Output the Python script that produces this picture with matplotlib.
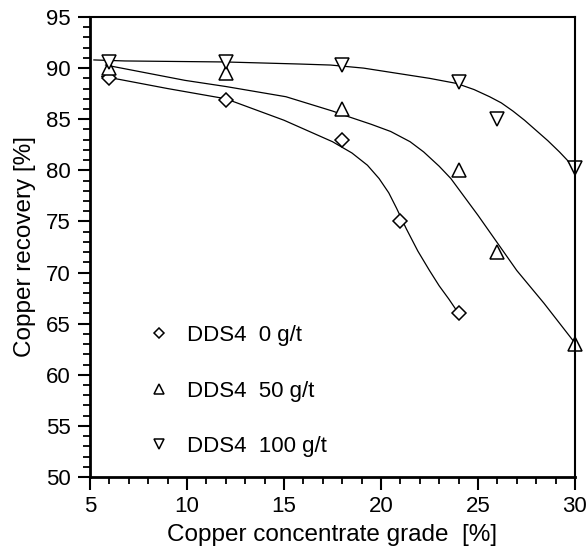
import matplotlib
matplotlib.use("Agg")
import matplotlib.pyplot as plt
from matplotlib.lines import Line2D
from matplotlib.ticker import MultipleLocator

plt.rcParams['font.family'] = ['Liberation Sans', 'DejaVu Sans']

# measured points
grade_0 = [6, 12, 18, 21, 24]
rec_0 = [89.0, 86.9, 83.0, 75.0, 66.0]
grade_50 = [6, 12, 18, 24, 26, 30]
rec_50 = [90.0, 89.5, 86.0, 80.0, 72.0, 63.0]
grade_100 = [6, 12, 18, 24, 26, 30]
rec_100 = [90.6, 90.6, 90.3, 88.6, 85.0, 80.2]

# fitted curves
fit_x_0 = [5.6, 6.5, 9.0, 12.0, 15.0, 17.5, 18.5, 19.3, 19.9, 20.4, 20.8, 21.3, 21.9, 22.5, 23.0, 23.5, 24.0]
fit_y_0 = [89.2, 88.9, 88.0, 87.0, 84.9, 82.8, 81.7, 80.5, 79.2, 77.8, 76.3, 74.3, 72.1, 70.2, 68.7, 67.4, 66.0]
fit_x_50 = [5.8, 9.9, 12.0, 15.1, 17.5, 18.4, 19.5, 20.5, 21.5, 22.2, 23.0, 23.6, 24.3, 25.0, 26.0, 27.0, 28.4, 30.0]
fit_y_50 = [90.3, 88.8, 88.2, 87.2, 85.8, 85.2, 84.5, 83.8, 82.8, 81.8, 80.4, 79.2, 77.4, 75.6, 72.9, 70.2, 67.0, 63.1]
fit_x_100 = [5.2, 6.8, 12.0, 15.8, 17.4, 19.1, 20.8, 22.5, 23.9, 24.8, 25.6, 26.2, 26.8, 27.4, 28.0, 28.6, 29.2, 29.6, 30.0]
fit_y_100 = [90.8, 90.7, 90.6, 90.4, 90.3, 90.0, 89.5, 89.0, 88.5, 87.9, 87.2, 86.6, 85.8, 84.9, 83.9, 82.9, 81.8, 81.0, 80.0]

labels = ['DDS4  0 g/t', 'DDS4  50 g/t', 'DDS4  100 g/t']

fig = plt.figure(figsize=(5.86, 5.52), dpi=100)
ax = fig.add_axes([0.1536, 0.1359, 0.8276, 0.8333])

ax.plot(fit_x_0, fit_y_0, color='black', lw=0.9)
ax.plot(fit_x_50, fit_y_50, color='black', lw=0.9)
ax.plot(fit_x_100, fit_y_100, color='black', lw=0.9)

mk = dict(linestyle='none', mfc='white', mec='black', mew=1.1, clip_on=False)
ax.plot(grade_0, rec_0, marker='D', ms=7, **mk)
ax.plot(grade_50, rec_50, marker='^', ms=9.5, **mk)
ax.plot(grade_100, rec_100, marker='v', ms=9.5, **mk)

handles = [Line2D([], [], marker='D', ms=5.5, **mk),
           Line2D([], [], marker='^', ms=7, **mk),
           Line2D([], [], marker='v', ms=7, **mk)]
ax.legend(handles, labels, loc='lower left', bbox_to_anchor=(0.08, 0.0),
          frameon=False, fontsize=16, labelspacing=1.55, handlelength=0.9,
          handletextpad=0.8)

ax.set_xlim(5, 30)
ax.set_ylim(50, 95)
ax.xaxis.set_major_locator(MultipleLocator(5))
ax.xaxis.set_minor_locator(MultipleLocator(1))
ax.yaxis.set_major_locator(MultipleLocator(5))
ax.yaxis.set_minor_locator(MultipleLocator(1))
ax.tick_params(which='major', length=9, width=1.5, labelsize=16, pad=5, direction='out')
ax.tick_params(which='minor', length=5, width=1.3, direction='out')
ax.spines['left'].set_linewidth(2)
ax.spines['bottom'].set_linewidth(2)
ax.spines['top'].set_linewidth(1.5)
ax.spines['right'].set_linewidth(1.5)

ax.set_xlabel('Copper concentrate grade  [%]', fontsize=17.5, labelpad=5)
ax.set_ylabel('Copper recovery [%]', fontsize=17.5, labelpad=7)

fig.savefig('out.png', dpi=100)
